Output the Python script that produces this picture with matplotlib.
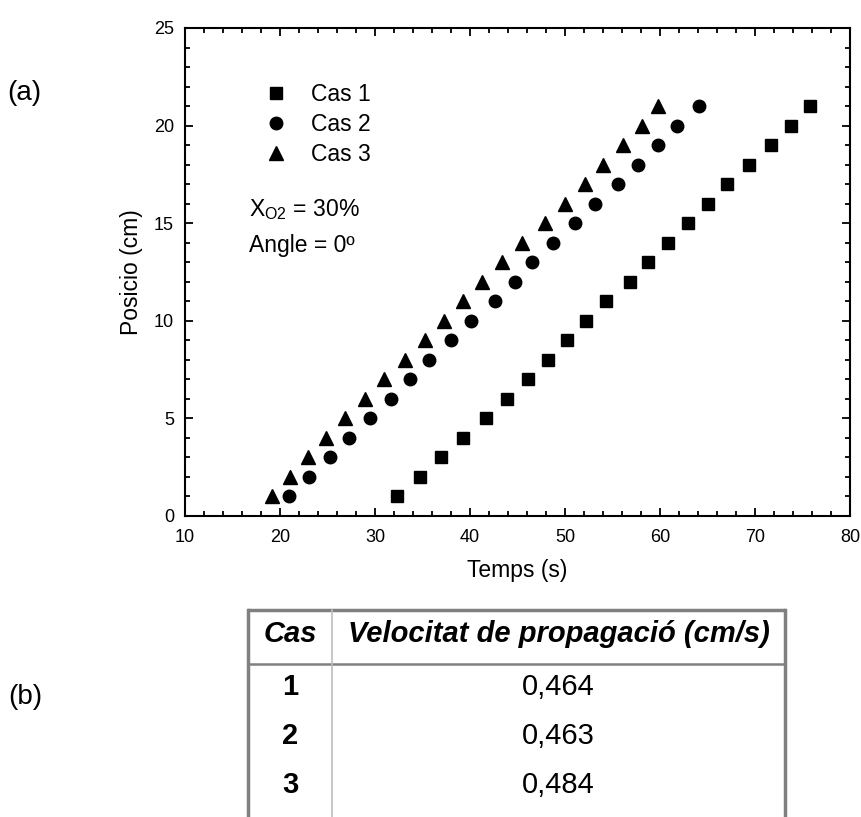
import matplotlib
matplotlib.use("Agg")
import matplotlib.pyplot as plt
from matplotlib.ticker import MultipleLocator

plt.rcParams['font.family'] = ['Liberation Sans', 'DejaVu Sans']
plt.rcParams['mathtext.fontset'] = 'custom'
plt.rcParams['mathtext.rm'] = 'Liberation Sans'

# posicio del front (cm) i temps de pas (s) per a cada cas
posicio = [1, 2, 3, 4, 5, 6, 7, 8, 9, 10, 11, 12, 13, 14, 15, 16, 17, 18, 19, 20, 21]
temps_cas1 = [32.3, 34.7, 37.0, 39.3, 41.7, 43.9, 46.1, 48.2, 50.2, 52.2, 54.3,
              56.8, 58.7, 60.8, 63.0, 65.1, 67.1, 69.4, 71.7, 73.8, 75.8]
temps_cas2 = [20.9, 23.1, 25.3, 27.3, 29.5, 31.7, 33.7, 35.7, 38.0, 40.1, 42.6,
              44.7, 46.5, 48.7, 51.1, 53.2, 55.6, 57.7, 59.8, 61.8, 64.1]
temps_cas3 = [19.2, 21.1, 22.9, 24.8, 26.8, 28.9, 30.9, 33.2, 35.3, 37.3, 39.3,
              41.3, 43.4, 45.5, 47.9, 50.0, 52.1, 54.0, 56.1, 58.1, 59.8]

# taula de velocitats
casos = ["1", "2", "3"]
velocitats = ["0,464", "0,463", "0,484"]

W, H = 862, 817
fig = plt.figure(figsize=(W / 100, H / 100), dpi=100)

def px_box(x0, y0, x1, y1):
    return [x0 / W, 1 - y1 / H, (x1 - x0) / W, (y1 - y0) / H]

ax = fig.add_axes(px_box(185, 28, 850, 516))
ax.plot(temps_cas1, posicio, 's', color='black', ms=8, label='Cas 1')
ax.plot(temps_cas2, posicio, 'o', color='black', ms=9, label='Cas 2')
ax.plot(temps_cas3, posicio, '^', color='black', ms=10, label='Cas 3')

ax.set_xlim(10, 80)
ax.set_ylim(0, 25)
ax.xaxis.set_major_locator(MultipleLocator(10))
ax.xaxis.set_minor_locator(MultipleLocator(2))
ax.yaxis.set_major_locator(MultipleLocator(5))
ax.yaxis.set_minor_locator(MultipleLocator(1))
ax.tick_params(which='both', direction='in', top=True, right=True, width=1.3)
ax.tick_params(which='major', length=6, labelsize=13)
ax.tick_params(which='minor', length=3.5)
ax.tick_params(axis='x', pad=9)
ax.tick_params(axis='y', pad=8)
for s in ax.spines.values():
    s.set_linewidth(1.5)

ax.set_xlabel("Temps (s)", fontsize=16.5, labelpad=10)
ax.set_ylabel("Posicio (cm)", fontsize=16.5, labelpad=8)

ax.legend(loc='upper left', bbox_to_anchor=(0.12, 0.887), frameon=False,
          fontsize=16.5, borderpad=0, handlelength=1.0, handletextpad=1.0,
          labelspacing=0.3, borderaxespad=0)

ax.text(0.096, 0.627, r"X$_{\mathrm{O2}}$ = 30%", transform=ax.transAxes,
        fontsize=16.5, va='center', ha='left')
ax.text(0.096, 0.555, "Angle = 0º", transform=ax.transAxes,
        fontsize=16.5, va='center', ha='left')

fig.text(24 / W, 1 - 93 / H, "(a)", fontsize=20, ha='center', va='center')
fig.text(25 / W, 1 - 697 / H, "(b)", fontsize=20, ha='center', va='center')

# taula (b), en coordenades de pixel
tx = fig.add_axes([0, 0, 1, 1], facecolor='none')
tx.set_xlim(0, W)
tx.set_ylim(H, 0)
tx.axis('off')
gris = '#808080'
x_esq, x_col, x_dre = 248, 332, 785
y_top, y_cap = 610, 664
tx.plot([x_esq, x_dre], [y_top, y_top], color=gris, lw=2.5, solid_capstyle='butt')
tx.plot([x_esq, x_esq], [y_top, H], color=gris, lw=2.5)
tx.plot([x_dre, x_dre], [y_top, H], color=gris, lw=2.5)
tx.plot([x_esq, x_dre], [y_cap, y_cap], color=gris, lw=1.8)
tx.plot([x_col, x_col], [y_top, H], color='#bdbdbd', lw=1.2)

tx.text((x_esq + x_col) / 2, 634, "Cas", fontsize=21, fontweight='bold',
        style='italic', ha='center', va='center')
tx.text((x_col + x_dre) / 2, 634, "Velocitat de propagació (cm/s)", fontsize=21,
        fontweight='bold', style='italic', ha='center', va='center')
for i, (c, v) in enumerate(zip(casos, velocitats)):
    y = 687 + 49 * i
    tx.text((x_esq + x_col) / 2, y, c, fontsize=21, fontweight='bold',
            ha='center', va='center')
    tx.text((x_col + x_dre) / 2, y, v, fontsize=21, ha='center', va='center')

fig.savefig("out.png", dpi=100)
